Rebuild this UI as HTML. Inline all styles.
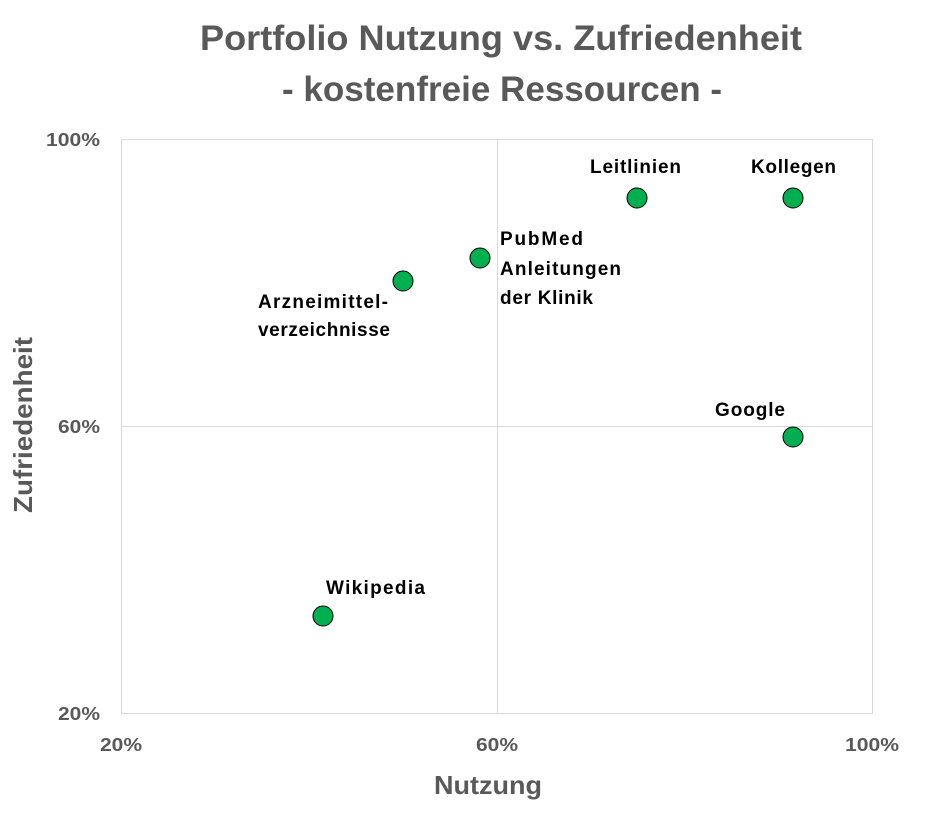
<!DOCTYPE html>
<html><head><meta charset="utf-8"><style>
body{margin:0;background:#fff;}
svg text{font-family:"Liberation Sans",Arial,sans-serif;font-weight:bold;}
</style></head><body>
<svg width="940" height="810" xmlns="http://www.w3.org/2000/svg">
<rect width="940" height="810" fill="#fff"/>
<text x="200" y="50" font-size="35" fill="#595959" textLength="602" lengthAdjust="spacingAndGlyphs">Portfolio Nutzung vs. Zufriedenheit</text>
<text x="282" y="101" font-size="35" fill="#595959" textLength="440" lengthAdjust="spacingAndGlyphs">- kostenfreie Ressourcen -</text>
<g stroke="#d9d9d9" stroke-width="1" fill="none">
<rect x="121.5" y="139.5" width="751" height="574"/>
<line x1="497.5" y1="139" x2="497.5" y2="713"/>
<line x1="121" y1="426.5" x2="872" y2="426.5"/>
</g>
<g font-size="18" fill="#595959">
<text x="46" y="146" textLength="54" lengthAdjust="spacingAndGlyphs">100%</text>
<text x="58" y="433" textLength="42" lengthAdjust="spacingAndGlyphs">60%</text>
<text x="58" y="720" textLength="42" lengthAdjust="spacingAndGlyphs">20%</text>
<text x="100" y="751" textLength="42" lengthAdjust="spacingAndGlyphs">20%</text>
<text x="476" y="751" textLength="42" lengthAdjust="spacingAndGlyphs">60%</text>
<text x="845" y="751" textLength="54" lengthAdjust="spacingAndGlyphs">100%</text>
</g>
<text x="434" y="794" font-size="26" fill="#595959" textLength="108" lengthAdjust="spacingAndGlyphs">Nutzung</text>
<text transform="translate(32,513) rotate(-90)" font-size="26" fill="#595959" textLength="176" lengthAdjust="spacingAndGlyphs">Zufriedenheit</text>
<g fill="#00b050" stroke="#000" stroke-width="1">
<circle cx="637" cy="198" r="10"/>
<circle cx="793" cy="198" r="10"/>
<circle cx="480" cy="258" r="10"/>
<circle cx="403" cy="281" r="10"/>
<circle cx="793" cy="437" r="10"/>
<circle cx="323" cy="616" r="10"/>
</g>
<g font-size="19" fill="#000" lengthAdjust="spacingAndGlyphs">
<text x="590" y="173" textLength="91">Leitlinien</text>
<text x="751" y="173" textLength="85">Kollegen</text>
<text x="500" y="245" textLength="83">PubMed</text>
<text x="500" y="275" textLength="121">Anleitungen</text>
<text x="500" y="304" textLength="93">der Klinik</text>
<text x="258" y="308" textLength="130">Arzneimittel-</text>
<text x="258" y="336" textLength="132">verzeichnisse</text>
<text x="715" y="416" textLength="70">Google</text>
<text x="326" y="594" textLength="99">Wikipedia</text>
</g>
</svg>
</body></html>
